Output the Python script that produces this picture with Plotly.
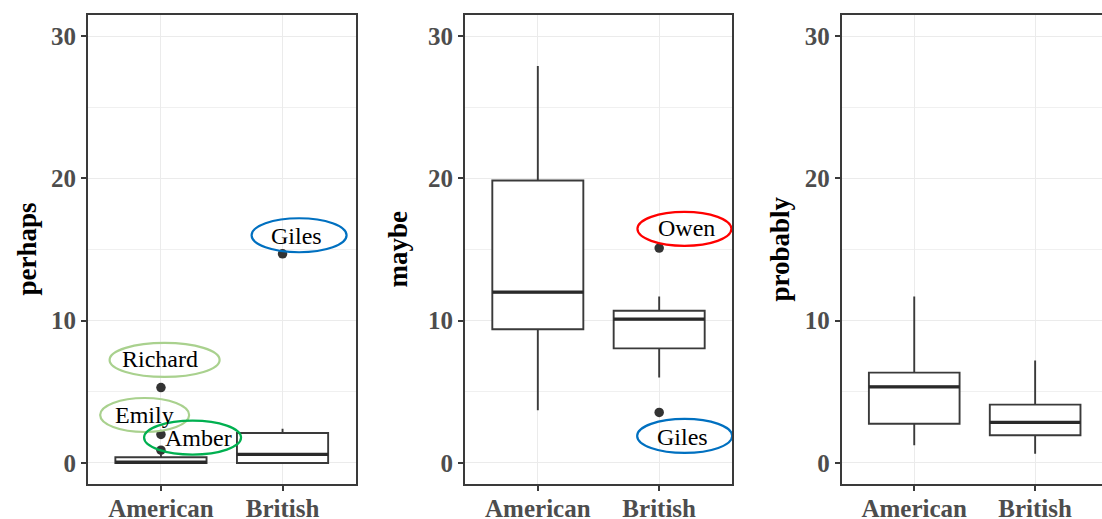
import plotly.graph_objects as go

# ---- data -------------------------------------------------------------
groups = ["American", "British"]
group_pos = [1, 2]
y_ticks = [0, 10, 20, 30]

# five-number summaries per panel: [American, British]
perhaps_low = [0.0, 0.0]
perhaps_q1 = [0.0, 0.0]
perhaps_med = [0.05, 0.6]
perhaps_q3 = [0.4, 2.1]
perhaps_high = [0.6, 2.4]

maybe_low = [3.7, 6.0]
maybe_q1 = [9.4, 8.05]
maybe_med = [12.0, 10.1]
maybe_q3 = [19.85, 10.7]
maybe_high = [27.9, 11.7]

probably_low = [1.25, 0.65]
probably_q1 = [2.75, 1.95]
probably_med = [5.35, 2.85]
probably_q3 = [6.35, 4.1]
probably_high = [11.7, 7.2]

# outlying speakers
perhaps_out_group = [1, 1, 1, 2]
perhaps_out_value = [5.3, 2.0, 0.9, 14.7]
maybe_out_group = [2, 2]
maybe_out_value = [15.1, 3.55]

# callout labels: panel, text, ellipse centre (data), text centre (data), colour
callout_panel = [1, 1, 1, 1, 2, 2]
callout_text = ["Richard", "Emily", "Amber", "Giles", "Owen", "Giles"]
callout_cx = [1.03, 0.866, 1.26, 2.136, 2.208, 2.21]
callout_cy = [7.24, 3.37, 1.78, 16.0, 16.45, 1.9]
callout_tx = [0.995, 0.866, 1.31, 2.114, 2.222, 2.19]
callout_ty = [7.3, 3.37, 1.76, 15.95, 16.5, 1.85]
callout_halfwidth = [55, 44.5, 48.5, 47.5, 47, 47.5]
callout_colour = ["#A9D18E", "#A9D18E", "#00B050", "#0070C0", "#FF0000", "#0070C0"]

# ---- styling ----------------------------------------------------------
DARK = "#3A3A3A"
SERIF = "Liberation Serif"
BOX_W = 0.75

panels = [
    ("perhaps", perhaps_low, perhaps_q1, perhaps_med, perhaps_q3, perhaps_high,
     perhaps_out_group, perhaps_out_value),
    ("maybe", maybe_low, maybe_q1, maybe_med, maybe_q3, maybe_high,
     maybe_out_group, maybe_out_value),
    ("probably", probably_low, probably_q1, probably_med, probably_q3, probably_high,
     [], []),
]

W, H = 1102, 519
x_domains = [(88 / W, 355.5 / W), (465 / W, 732 / W), (841.7 / W, 1.0)]
x_ranges = [[0.4, 2.6], [0.4, 2.6], [0.4, 2.553]]
y_domain = (1 - 484 / H, 1 - 15 / H)
title_x = [26, 397, 779]

fig = go.Figure()

for i, (name, lo, q1, med, q3, hi, og, ov) in enumerate(panels):
    ax = "" if i == 0 else str(i + 1)
    xr, yr = "x" + ax, "y" + ax
    fig.add_trace(go.Box(
        x=group_pos, lowerfence=lo, q1=q1, median=med, q3=q3, upperfence=hi,
        width=BOX_W, whiskerwidth=0, fillcolor="white",
        line=dict(color=DARK, width=1.9), boxpoints=False,
        xaxis=xr, yaxis=yr, showlegend=False, hoverinfo="skip",
    ))
    # heavier median bar
    for gx, m in zip(group_pos, med):
        fig.add_trace(go.Scatter(
            x=[gx - BOX_W / 2, gx + BOX_W / 2], y=[m, m], mode="lines",
            line=dict(color="#2A2A2A", width=3.3), xaxis=xr, yaxis=yr,
            showlegend=False, hoverinfo="skip",
        ))
    if og:
        fig.add_trace(go.Scatter(
            x=og, y=ov, mode="markers",
            marker=dict(color="#333333", size=9.5), xaxis=xr, yaxis=yr,
            showlegend=False, hoverinfo="skip",
        ))

    xaxis = dict(
        domain=list(x_domains[i]), range=x_ranges[i], anchor=yr,
        tickmode="array", tickvals=group_pos, ticktext=groups,
        showgrid=True, gridcolor="#EBEBEB", gridwidth=1.4,
        showline=True, linecolor=DARK, linewidth=1.9, mirror=True,
        ticks="outside", ticklen=5, tickcolor=DARK, tickwidth=1.6,
        ticklabelstandoff=-4,
        tickfont=dict(family=SERIF, size=25, color="#4D4D4D", weight="bold"),
        zeroline=False, automargin=False,
    )
    yaxis = dict(
        domain=list(y_domain), range=[-1.48, 31.48], anchor=xr,
        tickmode="array", tickvals=y_ticks,
        showgrid=True, gridcolor="#EBEBEB", gridwidth=1.4,
        minor=dict(tickmode="array", tickvals=[5, 15, 25], showgrid=True,
                   gridcolor="#F0F0F0", gridwidth=0.9, ticks=""),
        showline=True, linecolor=DARK, linewidth=1.9, mirror=(i < 2),
        ticks="outside", ticklen=5, tickcolor=DARK, tickwidth=1.6,
        tickfont=dict(family=SERIF, size=25, color="#4D4D4D", weight="bold"),
        zeroline=False, automargin=False,
    )
    fig.layout["xaxis" + ax] = xaxis
    fig.layout["yaxis" + ax] = yaxis

    fig.add_annotation(
        x=title_x[i] / W, y=(y_domain[0] + y_domain[1]) / 2, xref="paper", yref="paper",
        text=name, textangle=-90, showarrow=False,
        font=dict(family=SERIF, size=27, color="black", weight="bold"),
        xanchor="center", yanchor="middle",
    )

# callout ellipses and labels
for p, t, cx, cy, tx, ty, hw, col in zip(callout_panel, callout_text, callout_cx,
                                         callout_cy, callout_tx, callout_ty,
                                         callout_halfwidth, callout_colour):
    ax = "" if p == 1 else str(p)
    fig.add_shape(
        type="circle", xref="x" + ax, yref="y" + ax,
        xsizemode="pixel", ysizemode="pixel", xanchor=cx, yanchor=cy,
        x0=-hw, x1=hw, y0=-17, y1=17,
        line=dict(color=col, width=2.2), fillcolor="rgba(0,0,0,0)", layer="above",
    )
    fig.add_annotation(
        x=tx, y=ty, xref="x" + ax, yref="y" + ax, text=t, showarrow=False,
        font=dict(family=SERIF, size=24, color="black"),
        xanchor="center", yanchor="middle",
    )

fig.update_layout(
    width=W, height=H, margin=dict(l=0, r=0, t=0, b=0),
    paper_bgcolor="white", plot_bgcolor="white", showlegend=False,
)

fig.write_html("out.html")
